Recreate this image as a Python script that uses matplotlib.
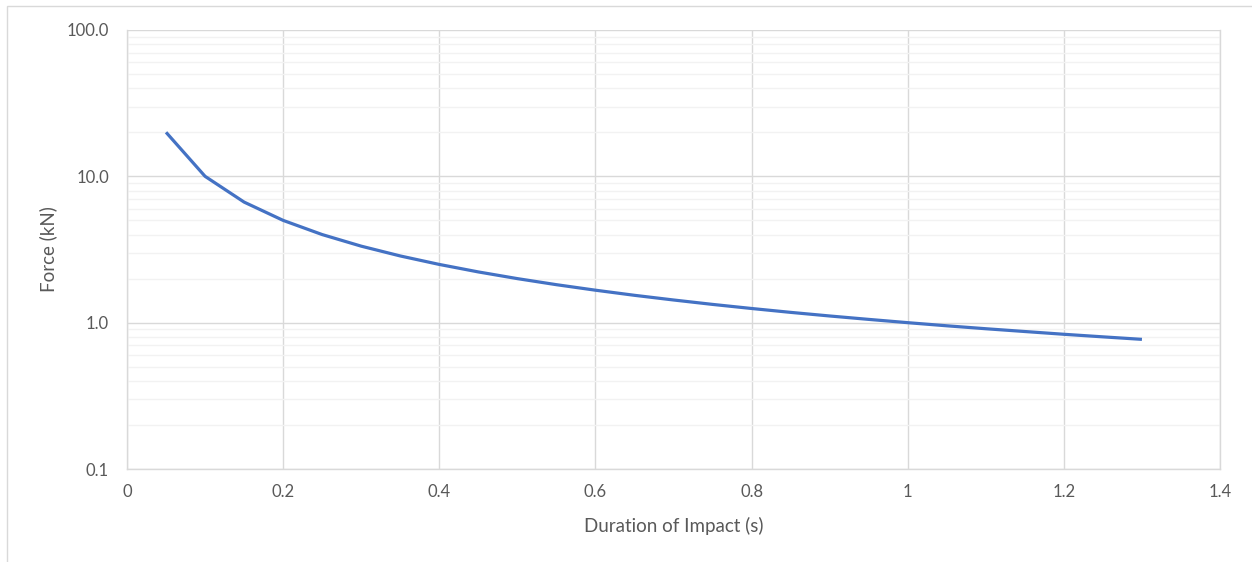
import matplotlib.pyplot as plt
from matplotlib.patches import Rectangle
from matplotlib.ticker import FixedLocator, LogLocator, NullFormatter

# impact duration (s) and resulting force (kN)
duration = [0.05, 0.10, 0.15, 0.20, 0.25, 0.30, 0.35, 0.40, 0.45, 0.50,
            0.55, 0.60, 0.65, 0.70, 0.75, 0.80, 0.85, 0.90, 0.95, 1.00,
            1.05, 1.10, 1.15, 1.20, 1.25, 1.30]
force = [20.0, 10.0, 6.667, 5.0, 4.0, 3.333, 2.857, 2.5, 2.222, 2.0,
         1.818, 1.667, 1.538, 1.429, 1.333, 1.25, 1.176, 1.111, 1.053, 1.0,
         0.952, 0.909, 0.870, 0.833, 0.8, 0.769]

x_ticks = [0, 0.2, 0.4, 0.6, 0.8, 1.0, 1.2, 1.4]
x_labels = ["0", "0.2", "0.4", "0.6", "0.8", "1", "1.2", "1.4"]
y_ticks = [0.1, 1, 10, 100]
y_labels = ["0.1", "1.0", "10.0", "100.0"]

text_col = "#595959"
plt.rcParams["font.family"] = ["Lato", "DejaVu Sans"]

fig = plt.figure(figsize=(12.52, 5.62), dpi=100)
# chart area border
fig.patches.append(Rectangle((7 / 1252, -0.1), 1.2, 1.1 - 6 / 562,
                             transform=fig.transFigure, fill=False,
                             edgecolor="#D9D9D9", linewidth=1))

ax = fig.add_axes([127 / 1252, 93 / 562, 1093 / 1252, 439 / 562])
ax.plot(duration, force, color="#4472C4", linewidth=2.3, solid_capstyle="butt")

ax.set_yscale("log")
ax.set_xlim(0, 1.4)
ax.set_ylim(0.1, 100)
ax.xaxis.set_major_locator(FixedLocator(x_ticks))
ax.set_xticklabels(x_labels)
ax.yaxis.set_major_locator(FixedLocator(y_ticks))
ax.set_yticklabels(y_labels)
ax.yaxis.set_minor_locator(LogLocator(base=10, subs=range(2, 10)))
ax.yaxis.set_minor_formatter(NullFormatter())

ax.grid(True, which="major", color="#D9D9D9", linewidth=1)
ax.grid(True, which="minor", axis="y", color="#F2F2F2", linewidth=1)
ax.set_axisbelow(True)
ax.tick_params(which="both", length=0, labelsize=12, colors=text_col)
ax.tick_params(axis="x", pad=11)
ax.tick_params(axis="y", pad=13)

for side in ["left", "bottom", "right"]:
    ax.spines[side].set_color("#D9D9D9")
    ax.spines[side].set_linewidth(1)
ax.spines["top"].set_visible(False)

ax.set_xlabel("Duration of Impact (s)", fontsize=13.5, color=text_col, labelpad=12)
ax.set_ylabel("Force (kN)", fontsize=13.5, color=text_col, labelpad=7)

fig.savefig("out.png", dpi=100)
